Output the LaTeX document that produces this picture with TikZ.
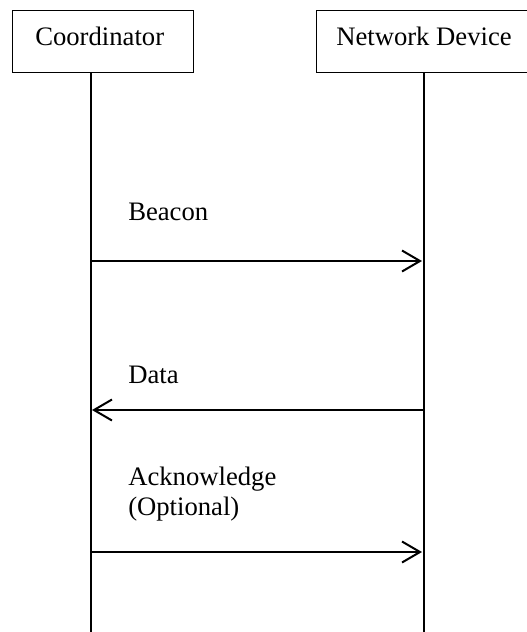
\documentclass[tikz,border=0pt]{standalone}
\usepackage{fontspec}
\setmainfont{Liberation Serif}
\usetikzlibrary{arrows.meta}

\begin{document}
\begin{tikzpicture}[
    x=0.75pt, y=-0.75pt,
    every node/.style={font=\fontsize{20}{22.5}\selectfont},
    actor/.style={draw, line width=0.75pt, minimum height=46.5pt,
      text height=13pt, text depth=7pt, inner sep=0pt},
    caption/.style={anchor=base west, inner sep=0pt, align=left},
    lifeline/.style={line width=1.5pt},
    message/.style={line width=1.5pt,
      -{Straight Barb[length=13.5pt, width=15.75pt, line width=1.5pt]}},
  ]
  \useasboundingbox (0,0) rectangle (527,632);

  % the two parties
  \node (coordinator) [actor, minimum width=135.75pt] at (102.5,41) {};
  \node (coordinator name) [anchor=base west, inner sep=0pt] at (35,45) {Coordinator};
  \node (device) [actor, minimum width=162pt] at (424,41) {Network Device};

  \coordinate (coordinator end) at (91,632);
  \coordinate (device end) at (423.5,632);
  \draw [lifeline]
    (coordinator.south -| coordinator end) -- (coordinator end)
  ;
  \draw [lifeline]
    (device.south -| device end) -- (device end)
  ;

  % messages
  \node (beacon) [caption] at (128,220) {Beacon};
  \coordinate (beacon from) at (91,261);
  \coordinate (beacon to) at (422,261);
  \draw [message] (beacon from) -- (beacon to);

  \node (data) [caption] at (128,383) {Data};
  \coordinate (data from) at (423,410);
  \coordinate (data to) at (92,410);
  \draw [message] (data from) -- (data to);

  \node (ack) [caption] at (128,515) {Acknowledge\\(Optional)};
  \coordinate (ack from) at (91,552);
  \coordinate (ack to) at (422,552);
  \draw [message] (ack from) -- (ack to);
\end{tikzpicture}
\end{document}
